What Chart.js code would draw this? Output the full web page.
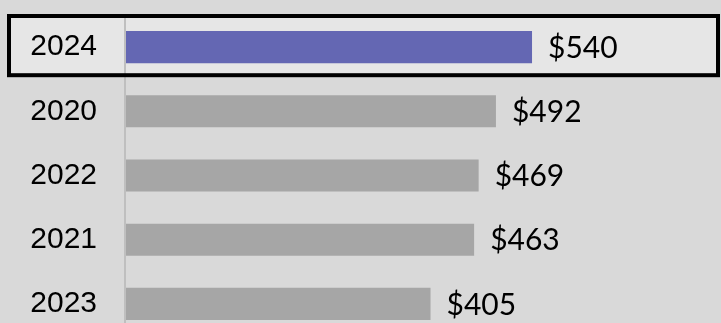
<!DOCTYPE html>
<html>
<head>
<meta charset="utf-8">
<script src="https://cdn.jsdelivr.net/npm/chart.js@4"></script>
<style>
  html, body { margin: 0; padding: 0; background: #d9d9d9; overflow: hidden; }
  #wrap { width: 721px; height: 336px; }
</style>
</head>
<body>
<div id="wrap"><canvas id="bar-chart" width="721" height="336"></canvas></div>
<script>
// Chart data
const years = ['2024', '2020', '2022', '2021', '2023'];
const amounts = [540, 492, 469, 463, 405];
const highlightYear = '2024';

const barColors = years.map(y => y === highlightYear ? '#6467b3' : '#a6a6a6');

// row box geometry from the category scale
function highlightRect(chart) {
    const yScale = chart.scales.y;
    const idx = years.indexOf(highlightYear);
    const cy = yScale.getPixelForValue(idx);
    const band = yScale.getPixelForValue(1) - yScale.getPixelForValue(0);
    const top = cy - band / 2 + 1;
    const bottom = cy + band / 2 - 4;
    return { x: 9, y: top, w: chart.width - 12, h: bottom - top };
}

// Draws the box round the highlighted row
const highlightBox = {
    id: 'highlightBox',
    beforeDraw(chart) {
        const r = highlightRect(chart);
        const ctx = chart.ctx;
        ctx.save();
        ctx.fillStyle = '#e6e6e6';
        ctx.fillRect(r.x, r.y, r.w, r.h);
        ctx.restore();
    },
    afterDatasetsDraw(chart) {
        const r = highlightRect(chart);
        const ctx = chart.ctx;
        const x0 = chart.scales.x.getPixelForValue(0);
        ctx.save();
        // axis line at zero
        ctx.strokeStyle = '#bfbfbf';
        ctx.lineWidth = 2;
        ctx.beginPath();
        ctx.moveTo(x0 - 1, chart.chartArea.top);
        ctx.lineTo(x0 - 1, chart.chartArea.bottom);
        ctx.stroke();
        // highlight border
        ctx.strokeStyle = '#000000';
        ctx.lineWidth = 4;
        ctx.strokeRect(r.x, r.y, r.w, r.h);
        ctx.restore();
    }
};

// Value labels at the end of each bar
const valueLabels = {
    id: 'valueLabels',
    afterDatasetsDraw(chart) {
        const ctx = chart.ctx;
        const meta = chart.getDatasetMeta(0);
        ctx.save();
        ctx.font = '30px Lato';
        ctx.fillStyle = '#000000';
        ctx.textAlign = 'left';
        ctx.textBaseline = 'middle';
        meta.data.forEach((bar, i) => {
            ctx.fillText('$' + amounts[i], bar.x + 16, bar.y + 1);
        });
        ctx.restore();
    }
};

new Chart(document.getElementById('bar-chart'), {
    type: 'bar',
    data: {
        labels: years,
        datasets: [{
            data: amounts,
            backgroundColor: barColors,
            borderWidth: 0,
            barPercentage: 0.5,
            categoryPercentage: 1
        }]
    },
    options: {
        indexAxis: 'y',
        responsive: false,
        animation: false,
        layout: { padding: { top: 15, right: 1, bottom: 0, left: 0 } },
        plugins: {
            legend: { display: false },
            tooltip: { enabled: false }
        },
        scales: {
            x: {
                display: false,
                min: 0,
                max: 790
            },
            y: {
                afterFit(scale) {
                    scale.width = 126;
                    scale.paddingTop = 0;
                    scale.paddingBottom = 0;
                },
                grid: { display: false, drawTicks: false },
                border: { display: false },
                ticks: {
                    color: '#000000',
                    padding: 29,
                    font: { family: "'Liberation Sans', Arial, sans-serif", size: 30 }
                }
            }
        }
    },
    plugins: [highlightBox, valueLabels]
});
</script>
</body>
</html>
